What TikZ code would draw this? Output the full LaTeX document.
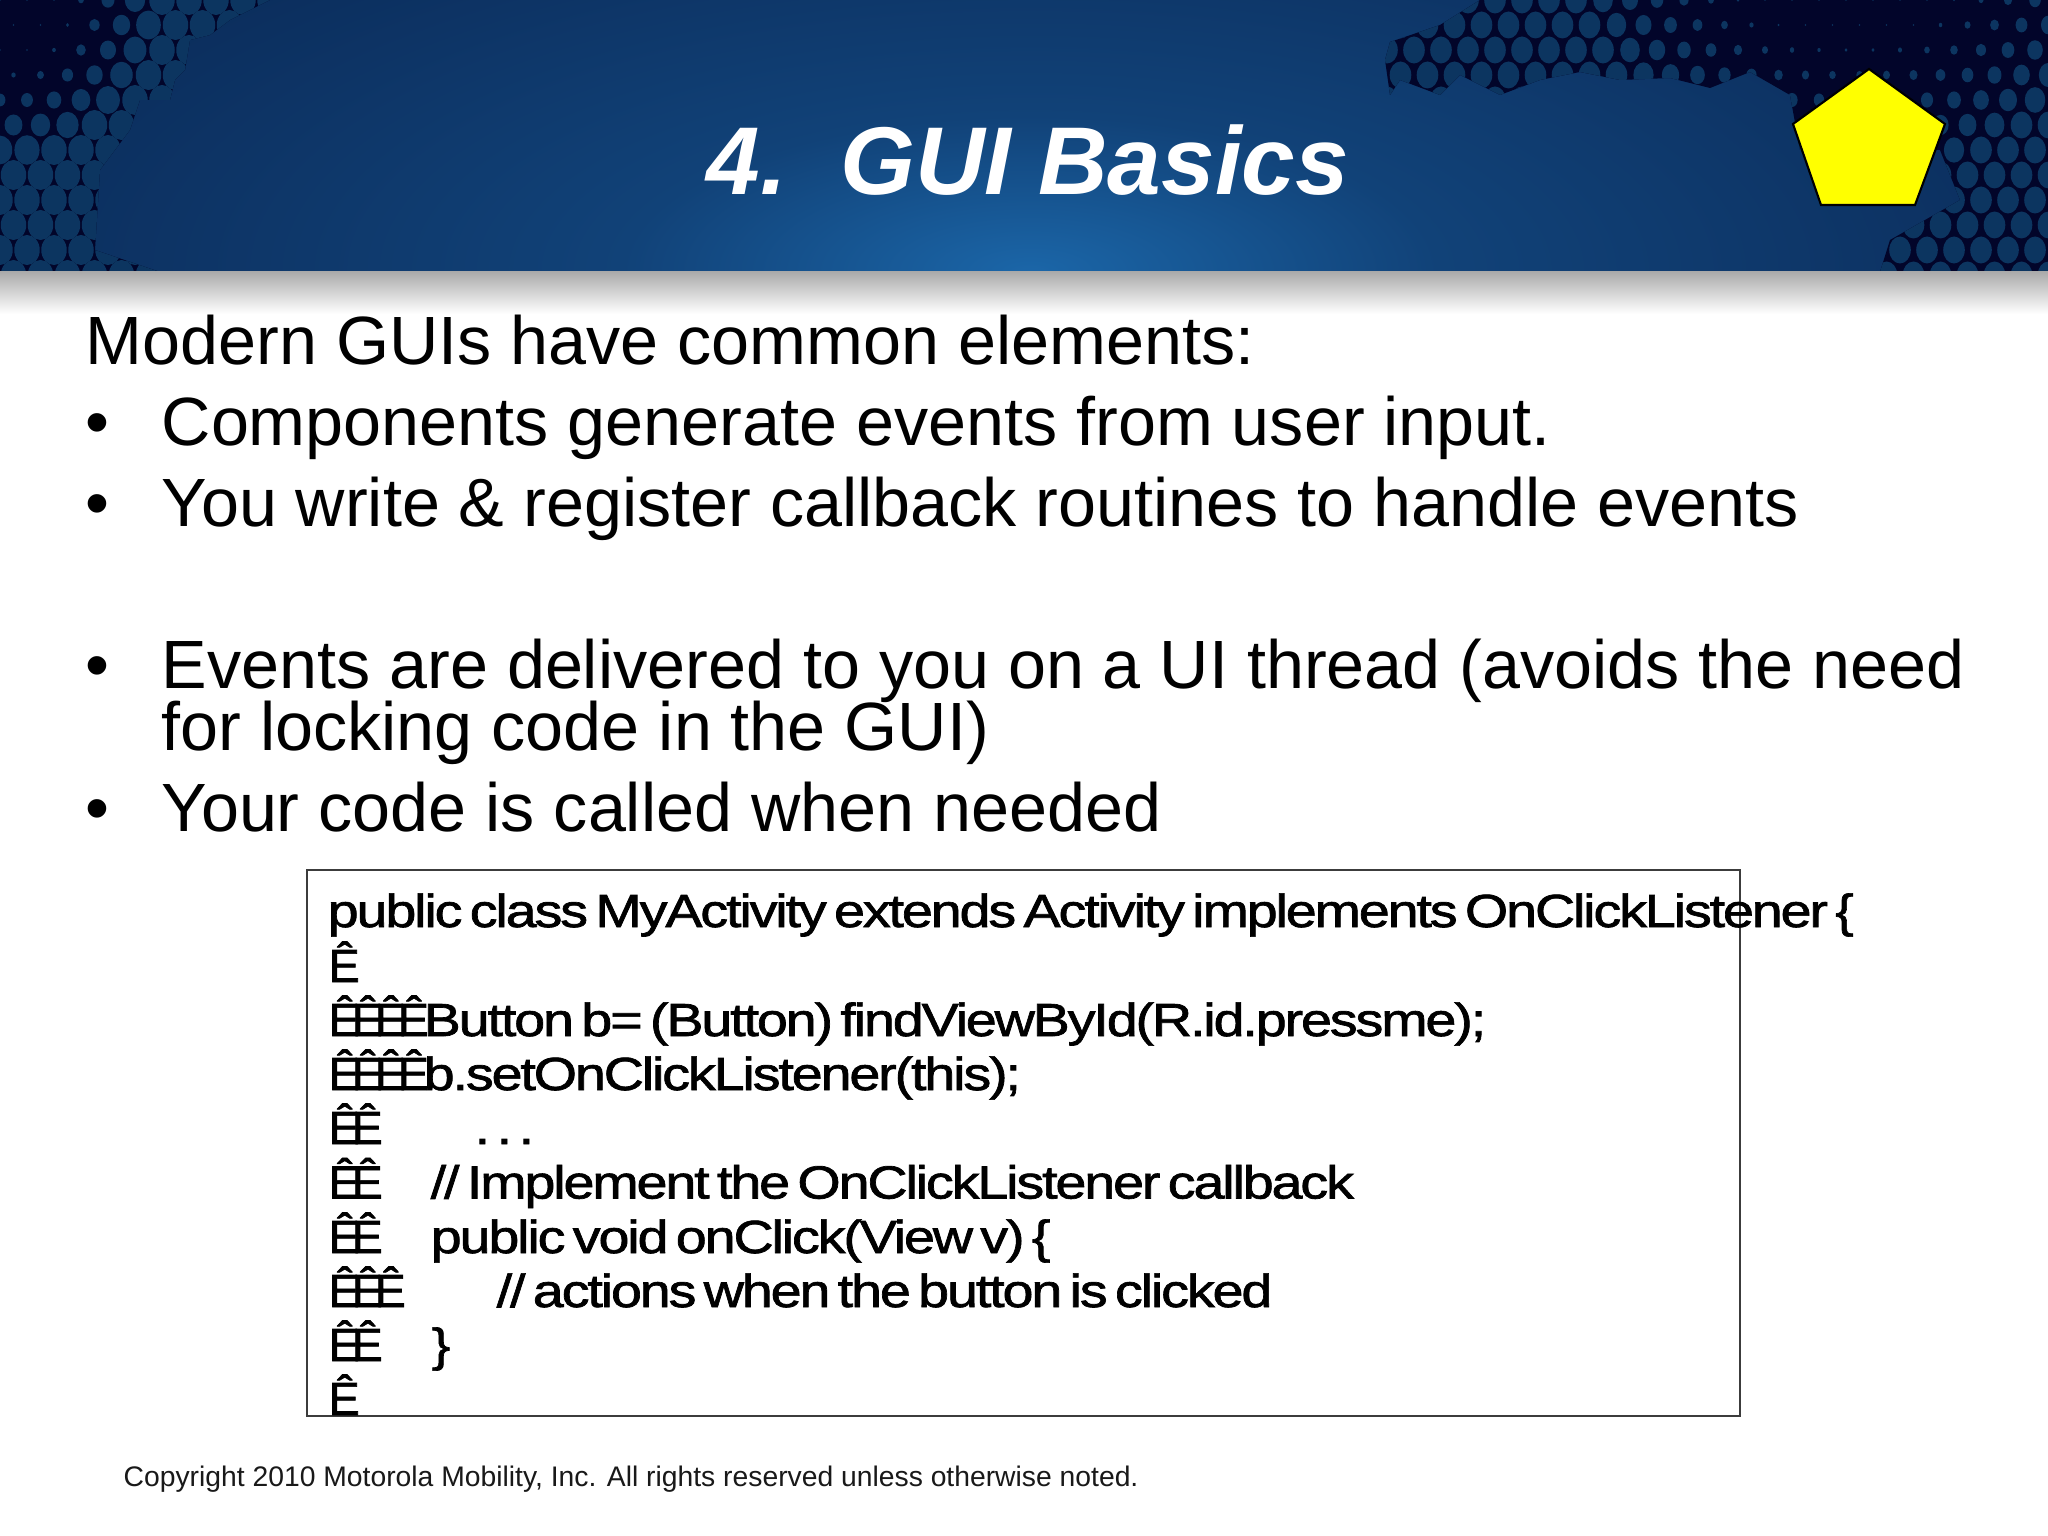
\documentclass[tikz,border=0pt]{standalone}
\usepackage{fontspec}
\setmainfont{Liberation Sans}
\newfontfamily\codefont[FakeStretch=1.2,FakeBold=1.5,LetterSpace=-4.6,WordSpace=0.55]{Liberation Sans}
\newfontfamily\hatfont[FakeBold=1.5,LetterSpace=-17]{Liberation Sans}
\definecolor{glowa}{HTML}{1B66A8}
\definecolor{glowb}{HTML}{114278}
\definecolor{glowc}{HTML}{0B2D5C}
\definecolor{inkdark}{HTML}{02052A}
\definecolor{dotblue}{HTML}{0C3560}
\definecolor{ruleink}{HTML}{3C3C3C}
\definecolor{penta}{HTML}{FFFF00}
\pgfdeclareradialshading{headerglow}{\pgfpoint{0bp}{0bp}}{color(0bp)=(glowa); color(6bp)=(glowb); color(16bp)=(glowc); color(50bp)=(glowc)}
\tikzset{
	bodytext/.style={anchor=base west, inner sep=0pt, font=\fontsize{19.43}{21}\selectfont, text=black},
	codetext/.style={anchor=base west, inner sep=0pt, font=\fontsize{13.2}{15}\codefont, text=black},
	hattext/.style={anchor=base west, inner sep=0pt, font=\fontsize{13.2}{15}\hatfont, text=black},
}
\begin{document}
\begin{tikzpicture}[x=1cm,y=-1cm]
	\useasboundingbox (0,0) rectangle (20.48,15.36);
	\fill[white] (0,0) rectangle (20.48,15.36);
	% header band
	\begin{scope}
		\clip (0,0) rectangle (20.48,2.72);
		\fill[glowc] (0,0) rectangle (20.48,2.72);
		\shade[shading=headerglow] (10.3,2.72) ellipse (17 and 6.5);
		\begin{scope}
			\clip (0,0)--(2.7,0)--(2.3,0.2)--(2.1,0.35)--(1.9,0.4)--(1.85,0.7)--(1.75,0.8)--(1.7,1)--(1.4,1.0)--(1.3,1.3)--(1,1.7)--(0.95,2.5)--(1.6,2.72)--(0,2.72)--cycle;
			\fill[inkdark] (0,0) rectangle (2.8,2.72);
			\foreach \i in {0,...,10} \foreach \j in {0,...,11} {
				\pgfmathsetmacro\dotx{\i*0.27+mod(\j,2)*0.135}
				\pgfmathsetmacro\doty{\j*0.25}
				\pgfmathsetmacro\dotr{max(0.01,min(0.15,(veclen(\dotx,\doty)-0.6)*0.16))}
				\fill[dotblue] (\dotx,\doty) ellipse ({0.85*\dotr} and \dotr);
			}
		\end{scope}
		\begin{scope}
			\clip (14.8,0)--(14.4,0.25)--(13.9,0.42)--(13.85,0.6)--(13.9,0.95)--(14,0.8)--(14.4,0.95)--(14.6,0.75)--(15,0.95)--(15.4,0.8)--(15.8,0.72)--(16.2,0.8)--(16.7,0.78)--(17.1,0.88)--(17.5,0.72)--(17.9,0.95)--(18,1.5)--(19.4,1.5)--(19.6,2)--(18.9,2.4)--(18.8,2.72)--(20.48,2.72)--(20.48,0)--cycle;
			\fill[inkdark] (13.5,0) rectangle (20.48,2.72);
			\foreach \i in {0,...,26} \foreach \j in {0,...,11} {
				\pgfmathsetmacro\dotx{13.6+\i*0.27+mod(\j,2)*0.135}
				\pgfmathsetmacro\doty{\j*0.25}
				\pgfmathsetmacro\dotr{max(0.01,min(0.135,(veclen(\dotx-18.5,\doty+1)-1.3)*0.09))}
				\fill[dotblue] (\dotx,\doty) ellipse ({0.8*\dotr} and \dotr);
			}
		\end{scope}
	\end{scope}
	\shade[top color=black!33, bottom color=white] (0,2.72) rectangle (20.48,3.14);
	% title and pentagon
	\node (title) [anchor=base west, inner sep=0pt, text=white, font=\fontsize{27.4}{30}\selectfont\bfseries\itshape] at (7.06,1.95) {4.\ \ GUI Basics};
	\filldraw[fill=penta, draw=black, line width=0.6pt] (18.69,0.69)--(19.45,1.24)--(19.15,2.05)--(18.21,2.05)--(17.93,1.24)--cycle;
	% body text
	\node (intro) [bodytext] at (0.85,3.645) {Modern GUIs have common elements:};
	\node (dota) [bodytext] at (0.85,4.455) {•};
	\node (linea) [bodytext] at (1.61,4.455) {Components generate events from user input.};
	\node (dotb) [bodytext] at (0.85,5.265) {•};
	\node (lineb) [bodytext] at (1.61,5.265) {You write \& register callback routines to handle events};
	\node (dotc) [bodytext] at (0.85,6.885) {•};
	\node (linec) [bodytext] at (1.61,6.885) {Events are delivered to you on a UI thread (avoids the need};
	\node (lined) [bodytext] at (1.61,7.505) {for locking code in the GUI)};
	\node (dotd) [bodytext] at (0.85,8.315) {•};
	\node (linee) [bodytext] at (1.61,8.315) {Your code is called when needed};
	% code box
	\draw[ruleink, line width=0.5pt] (3.07,8.70) rectangle (17.40,14.16);
	\node (codea) [codetext] at (3.27,9.27) {public class MyActivity extends Activity implements OnClickListener \{};
	\node (hatb) [hattext] at (3.28,9.82) {Ê};
	\node (hatc) [hattext] at (3.28,10.36) {ÊÊÊÊ};
	\node (codec) [codetext] at (4.23,10.36) {Button b= (Button) findViewById(R.id.pressme);};
	\node (hatd) [hattext] at (3.28,10.90) {ÊÊÊÊ};
	\node (coded) [codetext] at (4.23,10.90) {b.setOnClickListener(this);};
	\node (hate) [hattext] at (3.28,11.44) {ÊÊ};
	\node (codee) [codetext] at (4.74,11.44) {\spaceskip=0.6pt . . .};
	\node (hatf) [hattext] at (3.28,11.985) {ÊÊ};
	\node (codef) [codetext] at (4.30,11.985) {// Implement the OnClickListener callback};
	\node (hatg) [hattext] at (3.28,12.53) {ÊÊ};
	\node (codeg) [codetext] at (4.30,12.53) {public void onClick(View v) \{};
	\node (hath) [hattext] at (3.28,13.07) {ÊÊÊ};
	\node (codeh) [codetext] at (4.96,13.07) {// actions when the button is clicked};
	\node (hati) [hattext] at (3.28,13.61) {ÊÊ};
	\node (codei) [codetext] at (4.31,13.61) {\}};
	\node (hatj) [hattext] at (3.28,14.15) {Ê};
	% footer
	\node (copyright) [anchor=base west, inner sep=0pt, font=\fontsize{8.05}{10}\selectfont, text=black!90] at (1.23,14.86) {Copyright 2010 Motorola Mobility, Inc. All rights reserved unless otherwise noted.};
\end{tikzpicture}
\end{document}
